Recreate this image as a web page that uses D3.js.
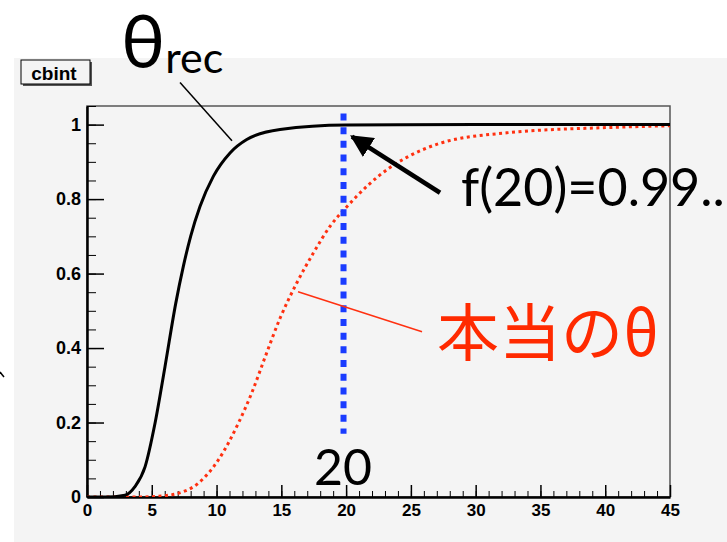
<!DOCTYPE html>
<meta charset="utf-8">
<head>
  <title>cbint</title>
</head>

<style>
body { margin: 0; background: #fff; }
.tick text { font-family: "Liberation Sans", Arial, sans-serif; font-weight: bold; fill: #000; }
.anno { font-family: Lato, "Noto Sans", sans-serif; fill: #000; }
</style>

<body>
  <svg width="727" height="542"></svg>

  <script src="https://cdnjs.cloudflare.com/ajax/libs/d3/7.8.5/d3.min.js"></script>
  <script>

// theta_rec (black, solid)
const recX = [0, 1.4, 2.93, 3.70, 4.48, 5.25, 6.02, 6.85, 7.44, 8.0, 8.72, 9.75, 11.04, 12.33, 14.9, 20, 30, 45];
const recY = [0, 0, 0.005, 0.028, 0.081, 0.198, 0.35, 0.52, 0.62, 0.70, 0.78, 0.861, 0.924, 0.960, 0.987, 0.999, 1, 1];

// true theta (red, dotted)
const trueX = [0, 4, 5.5, 7.05, 8.59, 10.14, 11.68, 12.71, 13.74, 14.9, 16.18, 17.47, 18.76, 20.04, 23.39, 24.68, 27.25, 32.4, 40.1, 45];
const trueY = [0, 0, 0.002, 0.01, 0.037, 0.0995, 0.198, 0.279, 0.375, 0.48, 0.574, 0.655, 0.727, 0.779, 0.885, 0.912, 0.950, 0.978, 0.992, 0.997];

const xMajor = [0, 5, 10, 15, 20, 25, 30, 35, 40, 45];
const yMajor = [0, 0.2, 0.4, 0.6, 0.8, 1];

const svg = d3.select('svg');

// pad background
svg.append('rect')
  .attr('x', 14).attr('y', 58)
  .attr('width', 713).attr('height', 484)
  .attr('fill', '#f4f4f4');

const x = d3.scaleLinear().domain([0, 45]).range([87, 670]);
const y = d3.scaleLinear().domain([0, 1.05]).range([497, 106]);

// frame
svg.append('rect')
  .attr('x', 87).attr('y', 106)
  .attr('width', 583).attr('height', 391)
  .attr('fill', 'none').attr('stroke', '#555').attr('stroke-width', 1.5);

// minor ticks
svg.append('g')
  .attr('transform', 'translate(0,497)')
  .call(d3.axisBottom(x).tickValues(d3.range(0, 46)).tickSizeInner(-6).tickSizeOuter(0).tickFormat(''))
  .call(g => g.select('.domain').remove());
svg.append('g')
  .attr('transform', 'translate(87,0)')
  .call(d3.axisLeft(y).tickValues(d3.range(0, 1.051, 0.05)).tickSizeInner(-9).tickSizeOuter(0).tickFormat(''))
  .call(g => g.select('.domain').remove());

// major axes
svg.append('g')
  .attr('transform', 'translate(0,497)')
  .call(d3.axisBottom(x).tickValues(xMajor).tickSizeInner(-12).tickSizeOuter(0).tickPadding(7).tickFormat(d3.format('d')))
  .call(g => g.select('.domain').attr('stroke-width', 2.5))
  .call(g => g.selectAll('.tick line').attr('stroke-width', 1.5))
  .call(g => g.selectAll('.tick text').style('font-size', '17px'));
svg.append('g')
  .attr('transform', 'translate(87,0)')
  .call(d3.axisLeft(y).tickValues(yMajor).tickSizeInner(-17).tickSizeOuter(0).tickPadding(6).tickFormat(d => d === 0 ? '0' : d3.format('.1~f')(d)))
  .call(g => g.select('.domain').attr('stroke-width', 2.5))
  .call(g => g.selectAll('.tick line').attr('stroke-width', 1.5))
  .call(g => g.selectAll('.tick text').style('font-size', '18px'));

// curves
svg.append('clipPath').attr('id', 'clip')
  .append('rect').attr('x', 87).attr('y', 106).attr('width', 583).attr('height', 391);

const line = d3.line()
  .x(d => x(d[0]))
  .y(d => y(d[1]))
  .curve(d3.curveMonotoneX);

svg.append('path')
  .datum(d3.zip(trueX, trueY))
  .attr('clip-path', 'url(#clip)')
  .attr('d', line)
  .attr('fill', 'none')
  .attr('stroke', '#ff3010')
  .attr('stroke-width', 3)
  .attr('stroke-dasharray', '3,3.5');

svg.append('path')
  .datum(d3.zip(recX, recY))
  .attr('clip-path', 'url(#clip)')
  .attr('d', line)
  .attr('fill', 'none')
  .attr('stroke', '#000')
  .attr('stroke-width', 3);

// cbint title box
svg.append('rect').attr('x', 23).attr('y', 62).attr('width', 69).attr('height', 24).attr('fill', '#555');
svg.append('rect').attr('x', 21).attr('y', 60).attr('width', 69).attr('height', 24)
  .attr('fill', '#f4f4f4').attr('stroke', '#000').attr('stroke-width', 1);
svg.append('text')
  .attr('x', 54).attr('y', 80)
  .attr('text-anchor', 'middle')
  .style('font-family', '"Liberation Sans", Arial, sans-serif')
  .style('font-weight', 'bold').style('font-size', '19px')
  .text('cbint');

// annotations
svg.append('line')
  .attr('x1', x(19.8)).attr('x2', x(19.8))
  .attr('y1', y(1.03)).attr('y2', y(0.17))
  .attr('stroke', '#1a3cff').attr('stroke-width', 6)
  .attr('stroke-dasharray', '7,6.7');

svg.append('text').attr('class', 'anno')
  .attr('x', 343).attr('y', 485)
  .attr('text-anchor', 'middle')
  .style('font-size', '50px')
  .text('20');

svg.append('line')
  .attr('x1', x(7.18)).attr('y1', y(1.113))
  .attr('x2', x(11.19)).attr('y2', y(0.957))
  .attr('stroke', '#000').attr('stroke-width', 1.5);

const th = svg.append('text').attr('class', 'anno').attr('x', 121).attr('y', 68);
th.append('tspan').style('font-size', '74px').text('θ');
th.append('tspan').attr('dy', 5).style('font-size', '43px').text('rec');

svg.append('defs').append('marker')
  .attr('id', 'head')
  .attr('viewBox', '0 0 10 10')
  .attr('refX', 9).attr('refY', 5)
  .attr('markerWidth', 5).attr('markerHeight', 5)
  .attr('orient', 'auto')
  .append('path').attr('d', 'M0,0L10,5L0,10Z').attr('fill', '#000');

svg.append('line')
  .attr('x1', x(27.25)).attr('y1', y(0.817))
  .attr('x2', x(20.45)).attr('y2', y(0.968))
  .attr('stroke', '#000').attr('stroke-width', 4.5)
  .attr('marker-end', 'url(#head)');

svg.append('text').attr('class', 'anno')
  .attr('x', 461).attr('y', 206)
  .style('font-size', '52px')
  .text('f(20)=0.99..');

svg.append('line')
  .attr('x1', x(16.29)).attr('y1', y(0.551))
  .attr('x2', x(25.86)).attr('y2', y(0.444))
  .attr('stroke', '#ff3010').attr('stroke-width', 1.5);

svg.append('text')
  .attr('x', 437).attr('y', 356)
  .style('font-family', '"Noto Sans CJK JP", sans-serif')
  .style('font-size', '62px')
  .attr('fill', '#ff2a00')
  .text('本当のθ');

// stray arrow end at the left edge
svg.append('line')
  .attr('x1', 0).attr('y1', 372).attr('x2', 4).attr('y2', 377)
  .attr('stroke', '#000').attr('stroke-width', 1.5);

  </script>
</body>
</html>
